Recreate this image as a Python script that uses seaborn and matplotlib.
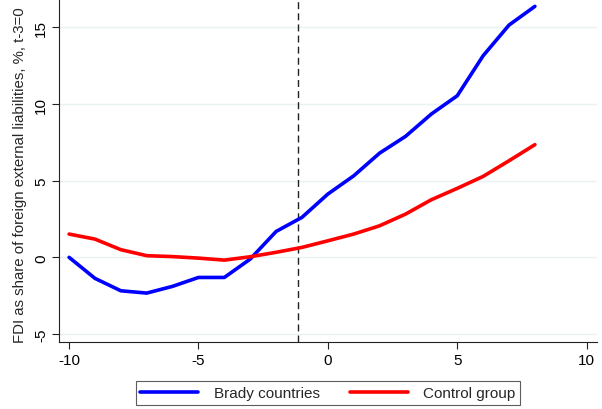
import matplotlib
matplotlib.use("Agg")
import matplotlib.pyplot as plt
import seaborn as sns
import pandas as pd

# Event time relative to the Brady deal
years = list(range(-10, 9))
brady = [0.0, -1.37, -2.18, -2.33, -1.89, -1.31, -1.31, -0.11, 1.69, 2.61,
         4.13, 5.32, 6.80, 7.89, 9.35, 10.54, 13.15, 15.15, 16.37]
control = [1.52, 1.19, 0.50, 0.11, 0.05, -0.05, -0.18, 0.04, 0.33, 0.65,
           1.08, 1.52, 2.06, 2.82, 3.76, 4.50, 5.28, 6.30, 7.35]
series_names = ["Brady countries", "Control group"]
deal_time = -1.15
x_ticks = [-10, -5, 0, 5, 10]
y_ticks = [-5, 0, 5, 10, 15]

df = pd.DataFrame({
    "t": years * 2,
    "value": brady + control,
    "group": [series_names[0]] * len(years) + [series_names[1]] * len(years),
})

sns.set_theme(style="white")
plt.rcParams["font.family"] = ["Liberation Sans", "DejaVu Sans"]

FS = 11

fig = plt.figure(figsize=(6.02, 4.10), dpi=100)
ax = fig.add_axes([59 / 602, 1 - 343 / 410, (597 - 59) / 602, 343 / 410])

for yv in y_ticks:
    ax.axhline(yv, color="#eaf2f3", lw=1.0, zorder=0)

sns.lineplot(data=df, x="t", y="value", hue="group",
             palette={series_names[0]: "#0000ff", series_names[1]: "#ff0000"},
             linewidth=2.6, ax=ax, legend=False, zorder=3)

ax.axvline(deal_time, color="#222222", lw=1.0, ls=(0, (5, 3)), zorder=2)

ax.set_xlim(-10.39, 10.4)
ax.set_ylim(-5.52, 16.85)
ax.set_xticks(x_ticks)
ax.set_yticks(y_ticks)
ax.set_xticklabels([str(v) for v in x_ticks])
ax.set_yticklabels([str(v) for v in y_ticks], rotation=90, va="center")
ax.tick_params(axis="both", direction="out", length=5, width=0.8,
               colors="#222222", labelsize=FS, labelcolor="black",
               bottom=True, left=True, pad=3)
ax.set_xlabel("")
ax.set_ylabel("FDI as share of foreign external liabilities, %, t-3=0",
              fontsize=10.8, loc="bottom", labelpad=5)

for side in ["top", "right"]:
    ax.spines[side].set_visible(False)
for side in ["left", "bottom"]:
    ax.spines[side].set_color("#222222")
    ax.spines[side].set_linewidth(0.8)

handles = [plt.Line2D([], [], color="#0000ff", lw=2.6),
           plt.Line2D([], [], color="#ff0000", lw=2.6)]
leg = fig.legend(handles, series_names, loc="center",
                 bbox_to_anchor=(328 / 602, 1 - 394 / 410), ncol=2,
                 fontsize=FS, frameon=True, fancybox=False,
                 handlelength=3.8, columnspacing=2.0, borderpad=0.3,
                 handletextpad=1.0)
leg.get_frame().set_edgecolor("#333333")
leg.get_frame().set_linewidth(0.8)

fig.savefig("out.png", dpi=100)
